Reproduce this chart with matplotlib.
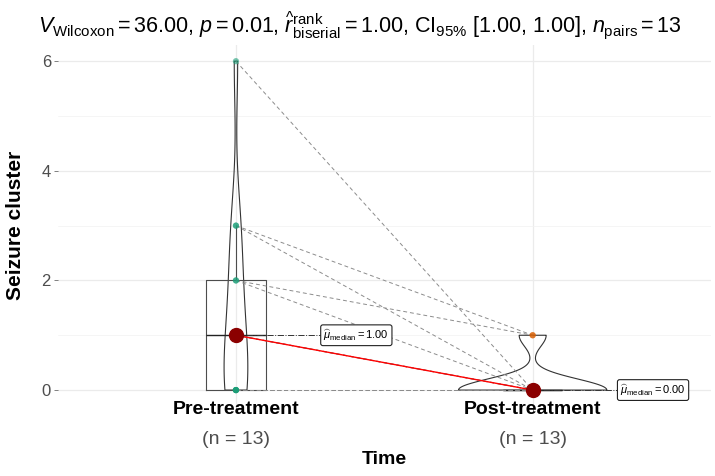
import matplotlib
matplotlib.use("Agg")
import matplotlib.pyplot as plt
import matplotlib.transforms as mtransforms
import numpy as np

plt.rcParams['font.family'] = ['Liberation Sans', 'DejaVu Sans']
plt.rcParams['mathtext.fontset'] = 'custom'
plt.rcParams['mathtext.rm'] = 'Liberation Sans'
plt.rcParams['mathtext.it'] = 'Liberation Sans:italic'
plt.rcParams['mathtext.bf'] = 'Liberation Sans:bold'

# paired data (one value per subject)
groups = ['Pre-treatment', 'Post-treatment']
pre = [0, 0, 0, 0, 0, 1, 1, 1, 2, 2, 3, 3, 6]
post = [0, 0, 0, 0, 0, 0, 0, 0, 1, 0, 1, 0, 0]
medians = [np.median(pre), np.median(post)]
n_labels = ['(n = 13)', '(n = 13)']
title = (r"$V_{\mathrm{Wilcoxon}} = 36.00$, $p = 0.01$, "
         r"$\widehat{r}_{\mathrm{biserial}}^{\mathrm{rank}} = 1.00$, "
         r"CI$_{95\%}$ [1.00, 1.00], $n_{\mathrm{pairs}} = 13$")

point_cols = ['#1B9E77', '#D95F02']

fig = plt.figure(figsize=(7.15, 4.76), dpi=100)
ax = fig.add_axes([0.081, 0.146, 0.913, 0.760])

ax.set_xlim(0.4, 2.6)
ax.set_ylim(-0.3, 6.3)
ax.set_yticks([0, 2, 4, 6])
ax.set_yticks([1, 3, 5], minor=True)
ax.set_xticks([1, 2])
ax.set_xticklabels([])
ax.grid(True, which='major', color='#EBEBEB', lw=0.9)
ax.grid(True, which='minor', axis='y', color='#F2F2F2', lw=0.5)
ax.set_axisbelow(True)
for s in ax.spines.values():
    s.set_visible(False)
ax.tick_params(axis='y', which='major', labelsize=12, labelcolor='#4D4D4D',
               color='#4D4D4D', length=3, width=0.5, pad=2)
ax.tick_params(axis='x', length=3, width=0.5, color='#4D4D4D')
ax.tick_params(which='minor', length=0)

# violins (bandwidth like R's nrd0)
vp1 = ax.violinplot([pre], positions=[1], widths=[0.08],
                    bw_method=0.4565, showextrema=False)
vp2 = ax.violinplot([post], positions=[2], widths=[0.5],
                    bw_method=0.9 * 13 ** -0.2, showextrema=False)
for b in vp1['bodies'] + vp2['bodies']:
    b.set_facecolor('none')
    b.set_edgecolor('#333333')
    b.set_linewidth(0.8)
    b.set_alpha(1)

# boxes
ax.boxplot([pre, post], positions=[1, 2], widths=0.2, showfliers=False,
           showcaps=False,
           boxprops=dict(color='#4D4D4D', lw=0.8),
           whiskerprops=dict(color='#4D4D4D', lw=0.8),
           medianprops=dict(color='#222222', lw=1.0),
           manage_ticks=False)

# paired lines
for a, b in zip(pre, post):
    ax.plot([1, 2], [a, b], ls=(0, (4, 3)), color='#8C8C8C', lw=0.7, zorder=3)

ax.scatter([1] * len(pre), pre, s=20, color=point_cols[0], alpha=0.6, zorder=4,
           edgecolors='none')
ax.scatter([2] * len(post), post, s=20, color=point_cols[1], alpha=0.6, zorder=4,
           edgecolors='none')

# medians
ax.plot([1, 2], medians, color='red', lw=1, zorder=5)
ax.plot([1, 2], medians, 'o', color='#8B0000', ms=10, zorder=6)
for i, m in enumerate(medians):
    x0 = i + 1
    ax.plot([x0, x0 + 0.29], [m, m], ls='-.', color='#333333', lw=0.7, zorder=5)
    ax.text(x0 + 0.295, m, r"$\widehat{\mu}_{\mathrm{median}} = %.2f$" % m,
            fontsize=8, va='center', ha='left', zorder=7, clip_on=False,
            bbox=dict(boxstyle='round,pad=0.25,rounding_size=0.2',
                      fc='white', ec='#222222', lw=0.8))

# axis labels
trans = mtransforms.blended_transform_factory(ax.transData, fig.transFigure)
for i, (g, n) in enumerate(zip(groups, n_labels)):
    ax.text(i + 1, 1 - 410 / 476, g, transform=trans, ha='center', va='center',
            fontsize=14, fontweight='bold', color='black')
    ax.text(i + 1, 1 - 440 / 476, n, transform=trans, ha='center', va='center',
            fontsize=14, color='#4D4D4D')
fig.text((58 + 711) / 2 / 715, 1 - 459 / 476, 'Time', ha='center', va='center',
         fontsize=14, fontweight='bold')
ax.set_ylabel('Seizure cluster', fontsize=15, fontweight='bold')
ax.yaxis.set_label_coords(-0.05, 0.5)

fig.text(360 / 715, 1 - 25 / 476, title, ha='center', va='center', fontsize=15.5)

fig.savefig('out.png', dpi=100)
